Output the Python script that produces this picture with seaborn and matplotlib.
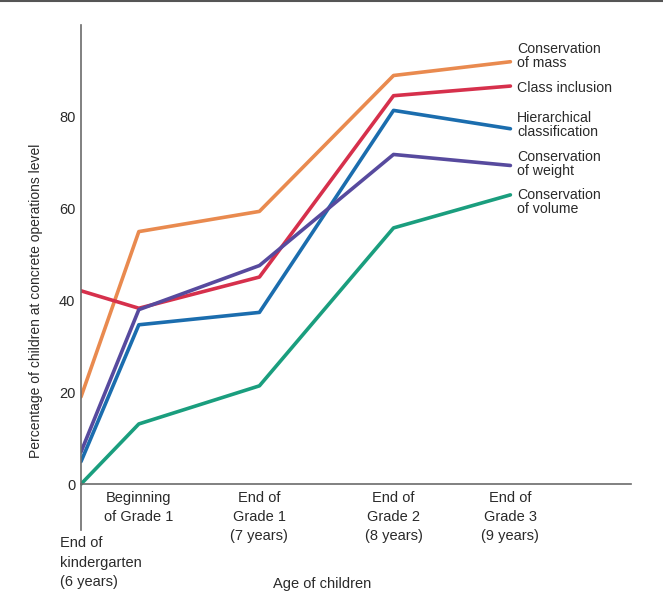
import matplotlib
matplotlib.use("Agg")
import matplotlib.pyplot as plt
import seaborn as sns
import pandas as pd
from matplotlib.lines import Line2D

stages = ["End of kindergarten", "Beginning of Grade 1", "End of Grade 1",
          "End of Grade 2", "End of Grade 3"]
stage_pos = [0.0, 0.47, 1.45, 2.54, 3.49]
tick_labels = ["", "Beginning\nof Grade 1", "End of\nGrade 1\n(7 years)",
               "End of\nGrade 2\n(8 years)", "End of\nGrade 3\n(9 years)"]

mass = [19, 55, 59.4, 89, 92]
class_incl = [42.1, 38.3, 45.1, 84.6, 86.7]
hier = [4.9, 34.7, 37.4, 81.4, 77.4]
weight = [7.0, 38.0, 47.6, 71.8, 69.4]
volume = [0, 13.1, 21.4, 55.8, 63.0]

series_names = ["Conservation\nof mass", "Class inclusion", "Hierarchical\nclassification",
                "Conservation\nof weight", "Conservation\nof volume"]
series_vals = [mass, class_incl, hier, weight, volume]
colors = ["#E98A4F", "#D6304C", "#1B6DAE", "#574A9E", "#1A9E7E"]

rows = []
for name, vals in zip(series_names, series_vals):
    for p, v in zip(stage_pos, vals):
        rows.append({"pos": p, "value": v, "series": name})
df = pd.DataFrame(rows)

sns.set_style("white")
plt.rcParams["font.family"] = ["Liberation Sans Narrow", "Liberation Sans", "DejaVu Sans"]

fig = plt.figure(figsize=(6.63, 6.0), dpi=100)
ax = fig.add_axes([81 / 663, 1 - 530 / 600, 550 / 663, 505 / 600])

sns.lineplot(data=df, x="pos", y="value", hue="series", hue_order=series_names,
             palette=colors, linewidth=2.6, legend=False, ax=ax, sort=False)

ax.set_xlim(0, 4.47)
ax.set_ylim(-10, 100)

for s in ["top", "right"]:
    ax.spines[s].set_visible(False)
ax.spines["bottom"].set_position(("data", 0))
for s in ["left", "bottom"]:
    ax.spines[s].set_color("#6b6b6b")
    ax.spines[s].set_linewidth(1.2)

ax.set_yticks([0, 20, 40, 60, 80])
ax.set_yticklabels(["0", "20", "40", "60", "80"])
ax.set_xticks(stage_pos[1:])
ax.set_xticklabels(tick_labels[1:], linespacing=1.45)
ax.tick_params(axis="both", direction="in", length=11, width=1.2, color="#6b6b6b",
               labelsize=10.5, labelcolor="#2a2a2a")
ax.tick_params(axis="x", pad=5)
ax.tick_params(axis="y", pad=4)
ax.set_xlabel("")
ax.set_ylabel("Percentage of children at concrete operations level", fontsize=10,
              color="#2a2a2a")
ax.yaxis.set_label_coords(-0.069, 0.453)

ax.annotate("End of\nkindergarten\n(6 years)", xy=(0, -10), xycoords="data",
            xytext=(-21, -6), textcoords="offset pixels", ha="left", va="top",
            fontsize=10.5, color="#2a2a2a", linespacing=1.5)
ax.annotate("Age of children", xy=(0.439, -0.106), xycoords="axes fraction",
            ha="center", va="center", fontsize=10.5, color="#2a2a2a")

label_y = [56, 88, 125, 164, 202]
for name, ypix in zip(series_names, label_y):
    fig.text(517 / 663, 1 - ypix / 600, name, ha="left", va="center",
             fontsize=10.2, color="#2a2a2a", linespacing=1.08)

fig.add_artist(Line2D([0, 1], [0.9985, 0.9985], color="#555555", linewidth=1.5,
                      transform=fig.transFigure))

fig.savefig("out.png", dpi=100)
